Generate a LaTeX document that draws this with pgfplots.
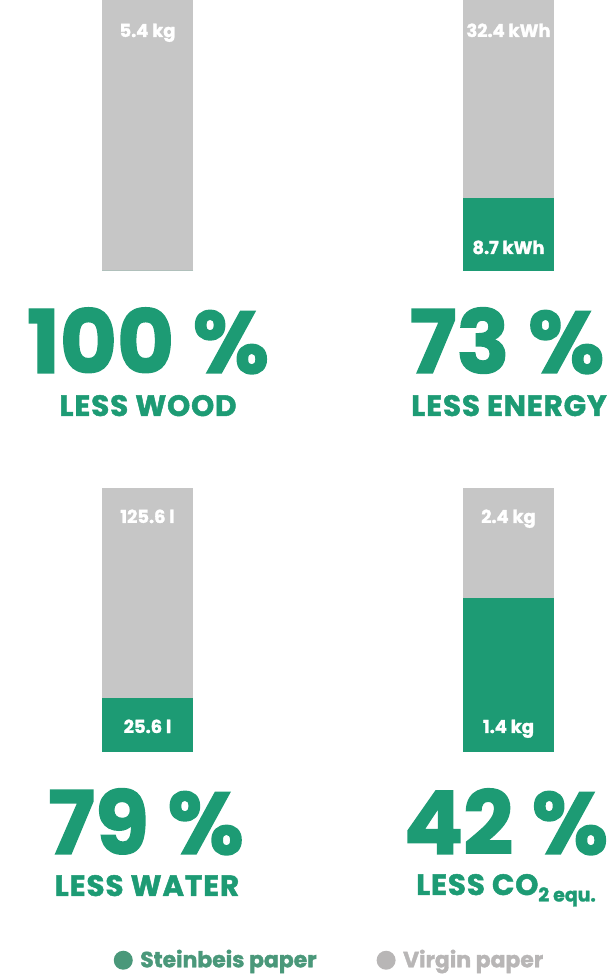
\documentclass[border=0pt]{standalone}
\usepackage{fontspec}
\setmainfont{Poppins}
\newfontfamily\heavy{Poppins}[BoldFeatures={FakeBold=1.6}]
\newfontfamily\heavyls{Poppins}[BoldFeatures={FakeBold=1.6,LetterSpace=3}]
\usepackage{pgfplots}
\pgfplotsset{compat=1.18}
\definecolor{sgreen}{RGB}{29,155,116}
\definecolor{sgray}{RGB}{198,198,198}
\definecolor{lgreen}{RGB}{74,152,122}
\definecolor{lgray}{RGB}{184,182,182}
\pgfplotsset{
  bar panel/.style={
    scale only axis, width=91bp, axis lines=none, ticks=none,
    xmin=-0.5, xmax=0.5, ymin=0, ybar, bar width=91bp, clip=false,
    anchor=south west
  },
}
\tikzset{vlab/.style={text=white, font=\fontsize{18}{18}\heavy\bfseries, anchor=base}}
\newcommand{\bigpct}[1]{\fontsize{88}{88}\heavy\bfseries #1}
\newcommand{\less}[1]{\fontsize{29.5}{29.5}\heavyls\bfseries #1}
\begin{document}
\begin{tikzpicture}
\useasboundingbox (0,0) rectangle (609bp,975bp);
% top-left: wood
\begin{axis}[bar panel, height=271bp, ymax=5.4, at={(102bp,704bp)}]
\addplot[fill=sgray, draw=none, bar shift=0pt, forget plot] coordinates {(0,5.4)};
\addplot[fill=sgreen, draw=none, bar shift=0pt, forget plot] coordinates {(0,0)};
\node[vlab] at (axis cs:0,5.4) [yshift=-37bp] {5.4 kg};
\end{axis}
% top-right: energy
\begin{axis}[bar panel, height=271bp, ymax=32.4, at={(463bp,704bp)}]
\addplot[fill=sgray, draw=none, bar shift=0pt, forget plot] coordinates {(0,32.4)};
\addplot[fill=sgreen, draw=none, bar shift=0pt, forget plot] coordinates {(0,8.7)};
\node[vlab] at (axis cs:0,32.4) [yshift=-37bp] {32.4 kWh};
\node[vlab] at (axis cs:0,0) [yshift=17bp] {8.7 kWh};
\end{axis}
% bottom-left: water
\begin{axis}[bar panel, height=264bp, ymax=125.6, at={(102bp,223bp)},
  legend style={at={(2.5,-0.785)}, anchor=center, draw=none, fill=none,
    font=\fontsize{22}{22}\heavy\bfseries,
    /tikz/every even column/.append style={column sep=58bp}},
  legend columns=2]
\addplot[fill=sgray, draw=none, bar shift=0pt, forget plot] coordinates {(0,125.6)};
\addplot[fill=sgreen, draw=none, bar shift=0pt, forget plot] coordinates {(0,25.6)};
\node[vlab] at (axis cs:0,125.6) [yshift=-35bp] {125.6 l};
\node[vlab] at (axis cs:0,0) [yshift=19bp] {25.6 l};
\addlegendimage{legend image code/.code={\fill[lgreen, draw=none] (9bp,-1bp) circle (9.5bp); \path[draw=none, fill=none] (0bp,-1bp) rectangle (24bp,-1bp);}}
\addlegendentry{\textcolor{lgreen}{Steinbeis paper}}
\addlegendimage{legend image code/.code={\fill[lgray, draw=none] (9bp,-1bp) circle (9.5bp); \path[draw=none, fill=none] (0bp,-1bp) rectangle (24bp,-1bp);}}
\addlegendentry{\textcolor{lgray}{Virgin paper}}
\end{axis}
% bottom-right: CO2
\begin{axis}[bar panel, height=264bp, ymax=2.4, at={(463bp,223bp)}]
\addplot[fill=sgray, draw=none, bar shift=0pt, forget plot] coordinates {(0,2.4)};
\addplot[fill=sgreen, draw=none, bar shift=0pt, forget plot] coordinates {(0,1.4)};
\node[vlab] at (axis cs:0,2.4) [yshift=-35bp] {2.4 kg};
\node[vlab] at (axis cs:0,0) [yshift=19bp] {1.4 kg};
\end{axis}
% big texts
\node[text=sgreen, anchor=base, inner sep=0pt] at (148bp,602bp) {\bigpct{100 \%}};
\node[text=sgreen, anchor=base, inner sep=0pt] at (148bp,559bp) {\less{LESS WOOD}};
\node[text=sgreen, anchor=base, inner sep=0pt] at (507bp,602bp) {\bigpct{73 \%}};
\node[text=sgreen, anchor=base, inner sep=0pt] at (509bp,559bp) {\less{LESS ENERGY}};
\node[text=sgreen, anchor=base, inner sep=0pt] at (146bp,121bp) {\bigpct{79 \%}};
\node[text=sgreen, anchor=base, inner sep=0pt] at (147bp,79bp) {\less{LESS WATER}};
\node[text=sgreen, anchor=base, inner sep=0pt] at (506bp,121bp) {\bigpct{42 \%}};
\node[text=sgreen, anchor=base, inner sep=0pt] at (506bp,80bp) {\less{LESS CO\raisebox{-0.22em}{\fontsize{19}{19}\heavy\bfseries 2 equ.}}};
\end{tikzpicture}
\end{document}
